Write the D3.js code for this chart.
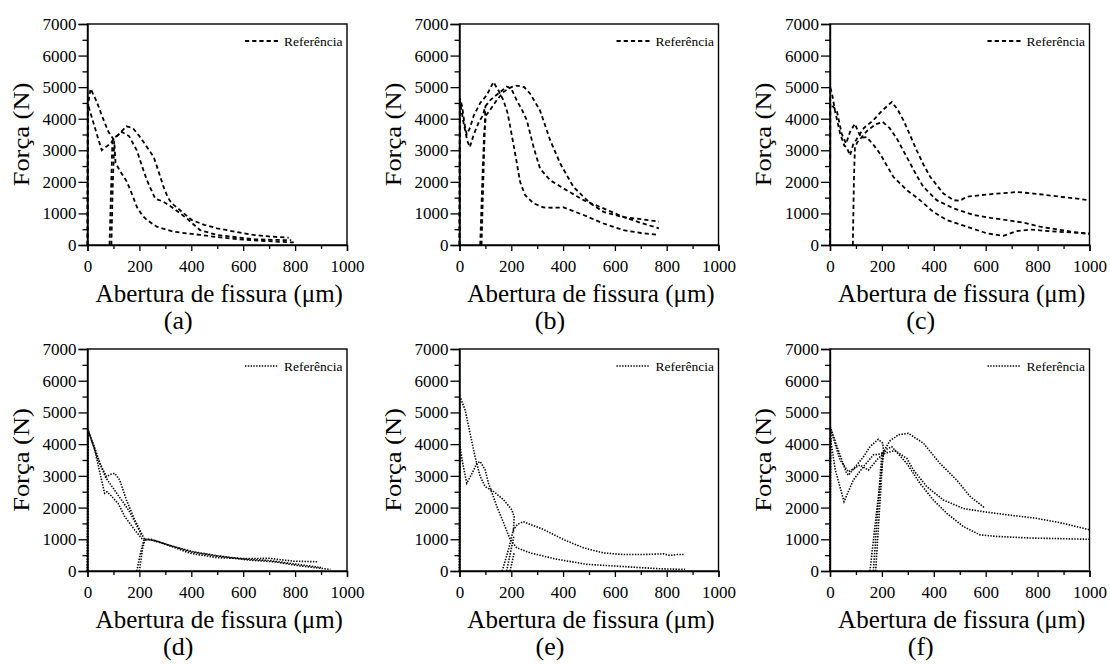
<!DOCTYPE html>
<html>
<head>
<meta charset="utf-8">
<script src="https://d3js.org/d3.v7.min.js"></script>
<style>
  html, body { margin: 0; padding: 0; background: #fff; }
  svg { display: block; }
</style>
</head>
<body>
<svg id="chart" width="1110" height="664"></svg>
<script>
// ---- tick values ----
const xTicks = [0, 200, 400, 600, 800, 1000];
const xMinor = [100, 300, 500, 700, 900];
const yTicks = [0, 1000, 2000, 3000, 4000, 5000, 6000, 7000];
const yMinor = [500, 1500, 2500, 3500, 4500, 5500, 6500];
const xLabel = "Abertura de fissura (\u03bcm)";
const yLabel = "For\u00e7a (N)";
const legendLabel = "Refer\u00eancia";
const panelLetters = ["(a)", "(b)", "(c)", "(d)", "(e)", "(f)"];

// ---- series: [crack opening (µm), force (N)], null = gap ----
const pa1 = [[0,0],[1,2500],[3,4500],[12,4950],[35,4550],[60,4000],[81,3580],[100,3350],[120,3500],[150,3760],[175,3700],[200,3450],[225,3150],[255,2790],[275,2300],[293,1840],[310,1500],[325,1320],[357,1100],[402,790],[450,640],[499,530],[570,420],[640,320],[700,270],[775,230]];
const pa2 = [[85,0],[96,3300],null,[0,0],[1,4470],[20,3950],[40,3400],[55,3000],[70,3100],[87,3200],[107,3420],[132,3580],[160,3450],[190,3000],[210,2500],[229,2050],[261,1470],[293,1370],[332,1160],[383,840],[434,470],[499,320],[640,180],[785,150]];
const pa3 = [[92,0],[97,1800],[103,3300],[108,2600],[125,2350],[152,2000],[172,1600],[190,1210],[210,950],[229,790],[267,580],[332,420],[434,320],[500,250],[600,170],[700,120],[795,80]];

const pb1 = [[0,0],[2,4650],[10,4400],[20,3800],[28,3500],[40,3700],[55,4100],[80,4500],[105,4740],[131,5160],[150,4900],[170,4580],[185,4200],[196,3740],[215,2890],[234,2000],[253,1580],[286,1320],[324,1190],[360,1180],[402,1190],[440,1070],[479,950],[556,680],[633,470],[700,380],[770,320]];
const pb2 = [[85,0],[100,4400],null,[0,0],[1,4600],[15,3900],[30,3300],[40,3100],[55,3500],[75,3900],[90,4100],[100,4400],[120,4600],[150,4800],[183,5020],[200,4950],[221,4580],[240,4300],[260,3950],[286,3100],[311,2420],[350,2050],[402,1790],[479,1420],[556,1160],[633,890],[700,700],[770,530]];
const pb3 = [[80,0],[88,2000],[95,3500],[102,4100],[120,4300],[145,4600],[170,4850],[200,5000],[221,5050],[250,5000],[273,4790],[311,4260],[350,3320],[389,2580],[440,1840],[505,1320],[556,1050],[633,880],[700,820],[770,740]];

const pc1 = [[0,0],[1,5000],[10,4700],[19,4260],[39,3530],[55,3150],[64,3100],[77,2840],[90,3200],[100,3320],[130,3700],[167,3950],[200,4250],[238,4530],[260,4300],[283,3950],[310,3450],[334,3000],[360,2550],[386,2160],[437,1630],[476,1420],[500,1400],[527,1530],[604,1600],[681,1650],[720,1680],[784,1630],[887,1530],[1000,1420]];
const pc2 = [[0,0],[1,4470],[26,4260],[45,3530],[62,3210],[77,3580],[96,3840],[109,3580],[120,3400],[141,3420],[165,3200],[193,2890],[220,2500],[244,2160],[296,1740],[347,1420],[398,1050],[450,790],[527,580],[604,370],[668,290],[720,440],[771,490],[874,420],[1000,370]];
const pc3 = [[88,0],[92,2000],[96,3100],[105,3250],[141,3600],[175,3820],[203,3900],[230,3700],[257,3380],[283,2980],[308,2600],[334,2200],[360,1840],[411,1420],[476,1160],[553,950],[620,860],[681,790],[750,700],[810,580],[900,460],[1000,340]];

const pd1 = [[0,0],[1,4470],[28,3820],[54,2870],[66,2450],[75,2500],[90,2380],[118,2130],[144,1710],[182,1290],[214,980],null,[190,0],[205,600],[218,1000],[245,1000],[305,830],[395,560],[500,420],[600,390],[700,400],[794,310],[890,290]];
const pd2 = [[0,0],[2,4450],[41,3500],[73,2975],[90,3050],[105,3080],[124,2870],[150,2240],[182,1610],[208,1190],[221,980],[240,990],[300,850],[400,600],[500,470],[627,340],[720,290],[820,160],[936,50]];
const pd3 = [[0,0],[3,4400],[25,3950],[50,3350],[70,2950],[100,2600],[130,2250],[160,1900],[189,1450],[210,1100],null,[200,0],[212,700],[222,1000],[260,960],[320,800],[400,620],[500,480],[600,380],[700,330],[800,220],[900,110]];

const pe1 = [[0,0],[2,5450],[5,5430],[22,5070],[41,4340],[60,3600],[80,2980],[99,2660],[131,2510],[170,2250],[202,1930],[211,1720],[208,1200],null,[165,0],[190,700],[208,1300],[225,1480],[247,1550],[324,1310],[402,990],[479,730],[556,570],[633,520],[710,520],[788,540],[813,490],[840,520],[865,520]];
const pe2 = [[0,0],[1,4000],[10,3500],[28,2770],[50,3100],[67,3400],[80,3450],[99,3190],[112,2770],[144,2040],[170,1520],[196,990],[221,730],[273,570],[376,370],[492,210],[633,140],[775,70],[871,50]];
const pe3 = [[182,0],[205,900],[210,1100],null,[195,0],[212,600]];

const pf1 = [[0,0],[2,4530],[32,3810],[64,3080],[71,3020],[103,3340],[129,3600],[154,3920],[186,4150],[203,4030],[208,3700],[220,3850],[238,3920],[296,3390],[347,2760],[398,2240],[450,1820],[514,1400],[578,1140],[643,1090],[771,1040],[1000,1000]];
const pf2 = [[0,0],[1,4220],[20,3200],[54,2190],[90,2870],[129,3290],[167,3660],[206,3700],[250,3800],[296,3550],[321,3190],[373,2660],[437,2240],[514,1970],[591,1870],[694,1760],[797,1660],[900,1500],[1000,1300],null,[154,0],[180,1900],[206,3700]];
const pf3 = [[0,0],[3,4450],[39,3500],[71,3130],[116,3340],[148,3180],[180,3500],[199,3650],[230,4100],[265,4300],[302,4340],[360,4030],[424,3390],[488,2870],[540,2350],[598,1980],null,[167,0],[200,3750],null,[176,0],[205,3800]];

const panelSeries = [[pa1,pa2,pa3],[pb1,pb2,pb3],[pc1,pc2,pc3],[pd1,pd2,pd3],[pe1,pe2,pe3],[pf1,pf2,pf3]];

// ---- layout ----
const colX = [[87.5, 347], [459.5, 718.5], [830, 1089.5]];
const rowY = [[24, 245], [349, 571]];
const FONT = "'Liberation Serif', 'Times New Roman', serif";
const dashStyles = ["4.2,3", "1.4,1.4"];
const lineWidths = [1.8, 1.6];

const svg = d3.select("#chart");

panelSeries.forEach((series, i) => {
  const row = Math.floor(i / 3), col = i % 3;
  const [x0, x1] = colX[col];
  const [y0, y1] = rowY[row];
  const x = d3.scaleLinear().domain([0, 1000]).range([x0, x1]);
  const y = d3.scaleLinear().domain([0, 7000]).range([y1, y0]);
  const g = svg.append("g");

  // curves
  const line = d3.line().defined(d => d !== null).x(d => x(d[0])).y(d => y(d[1]));
  series.forEach(s => {
    g.append("path")
      .attr("d", line(s))
      .attr("fill", "none")
      .attr("stroke", "#000")
      .attr("stroke-width", lineWidths[row])
      .attr("stroke-dasharray", dashStyles[row]);
  });

  // frame
  g.append("rect")
    .attr("x", x0).attr("y", y0)
    .attr("width", x1 - x0).attr("height", y1 - y0)
    .attr("fill", "none").attr("stroke", "#000").attr("stroke-width", 1.4);

  // x axis
  const gx = g.append("g").attr("transform", `translate(0,${y1})`)
    .call(d3.axisBottom(x).tickValues(xTicks).tickSize(6).tickPadding(9).tickFormat(d3.format("d")));
  gx.select(".domain").attr("stroke-width", 1.4);
  gx.selectAll("line").attr("stroke-width", 1.3);
  gx.selectAll("text").attr("font-family", FONT).attr("font-size", 17).attr("fill", "#000");
  const gxm = g.append("g").attr("transform", `translate(0,${y1})`)
    .call(d3.axisBottom(x).tickValues(xMinor).tickSize(4).tickFormat(""));
  gxm.select(".domain").remove();
  gxm.selectAll("line").attr("stroke-width", 1.3);

  // y axis
  const gy = g.append("g").attr("transform", `translate(${x0},0)`)
    .call(d3.axisLeft(y).tickValues(yTicks).tickSize(9).tickPadding(2).tickFormat(d3.format("d")));
  gy.select(".domain").attr("stroke-width", 1.4);
  gy.selectAll("line").attr("stroke-width", 1.3);
  gy.selectAll("text").attr("font-family", FONT).attr("font-size", 17).attr("fill", "#000");
  const gym = g.append("g").attr("transform", `translate(${x0},0)`)
    .call(d3.axisLeft(y).tickValues(yMinor).tickSize(5).tickFormat(""));
  gym.select(".domain").remove();
  gym.selectAll("line").attr("stroke-width", 1.3);

  // axis titles
  const cx = (x0 + x1) / 2;
  g.append("text")
    .attr("x", cx + 2).attr("y", y1 + 57)
    .attr("text-anchor", "middle")
    .attr("font-family", FONT).attr("font-size", 25)
    .text(xLabel);
  g.append("text")
    .attr("transform", `translate(${x0 - 59},${(y0 + y1) / 2}) rotate(-90) scale(1,0.88)`)
    .attr("text-anchor", "middle")
    .attr("font-family", FONT).attr("font-size", 26.5)
    .text(yLabel);

  // panel letter
  g.append("text")
    .attr("x", cx - 39).attr("y", y1 + 84)
    .attr("text-anchor", "middle")
    .attr("font-family", FONT).attr("font-size", 26)
    .text(panelLetters[i]);

  // legend
  const ly = y0 + 17;
  g.append("line")
    .attr("x1", x1 - 102).attr("x2", x1 - 69)
    .attr("y1", ly).attr("y2", ly)
    .attr("stroke", "#000").attr("stroke-width", lineWidths[row])
    .attr("stroke-dasharray", dashStyles[row]);
  g.append("text")
    .attr("x", x1 - 63).attr("y", ly)
    .attr("dominant-baseline", "central")
    .attr("font-family", FONT).attr("font-size", 13.5)
    .text(legendLabel);
});
</script>
</body>
</html>
